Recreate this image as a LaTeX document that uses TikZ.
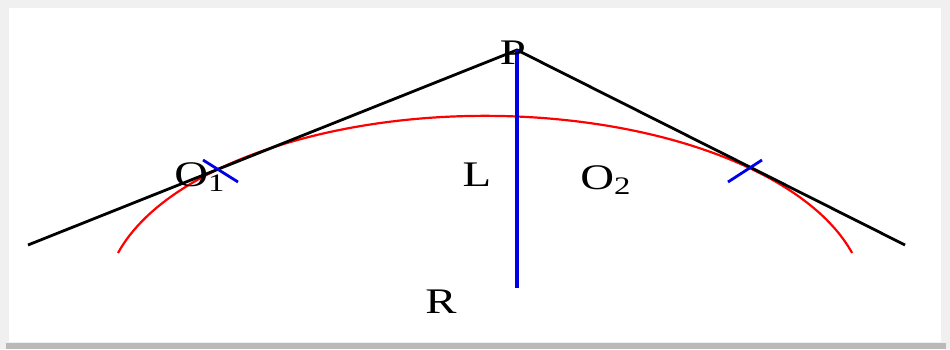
\documentclass[tikz,border=0pt]{standalone}
\usepackage{fontspec}
\setmainfont{Liberation Serif}
\usepackage{xcolor}
\usetikzlibrary{arrows.meta,calc,positioning}
\newcommand{\widelab}[1]{\scalebox{1.3}[1]{#1}}
\tikzset{
  lab/.style={inner sep=0pt,font=\fontsize{18}{21}\selectfont},
  tangent/.style={black,line width=1.4pt},
  curve/.style={red,line width=1.1pt},
  mark line/.style={blue!90!black,line width=1.8pt}
}
\begin{document}
\begin{tikzpicture}[x=0.5pt,y=0.5pt,>=Latex]
  \fill[gray!12] (0,0) rectangle (950,349);
  \fill[gray!55] (6,0) rectangle (946,6);
  \fill[white] (9,7) rectangle (941,341);
  \useasboundingbox (0,0) rectangle (950,349);
  \coordinate (P) at (517,299);
  \coordinate (A) at (28,104);
  \coordinate (B) at (905,104);
  \coordinate (F) at (517,61);
  \draw[curve] (118,96) arc[start angle=165,end angle=15,x radius=380,y radius=185];
  \draw[tangent] (A) -- (P) -- (B);
  \draw[mark line] (P) -- (F);
  \foreach \a/\b in {203/238,762/728} {\draw[mark line,line width=1.4pt] (\a,189)--(\b,167);}
  \node[lab] (Plab) at (513,296) {\widelab{P}};
  \node[lab] (Llab) at (477,174) {\widelab{L}};
  \node[lab,anchor=west] (O1lab) at (174,172) {\widelab{O\textsubscript{1}}};
  \node[lab,anchor=west] (O2lab) at (580,169) {\widelab{O\textsubscript{2}}};
  \node[lab] (Rlab) at (441,47) {\widelab{R}};
\end{tikzpicture}
\end{document}
